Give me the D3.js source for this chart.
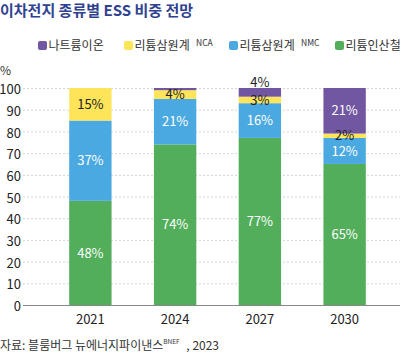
<!DOCTYPE html>
<html><head><meta charset="utf-8">
<script src="https://cdn.jsdelivr.net/npm/d3@7"></script>
<style>
body{margin:0;background:#fff;}
text{font-family:"Noto Sans CJK KR","Noto Sans",sans-serif;}
</style></head>
<body><svg id="c" width="407" height="355"></svg>
<script>
const categories = ["2021","2024","2027","2030"];
const seriesNames = ["리튬인산철","리튬삼원계 NMC","리튬삼원계 NCA","나트륨이온"];
const lfp = [48,74,77,65];
const nmc = [37,21,16,12];
const nca = [15,4,3,2];
const sodium = [0,1,4,21];
const yTicks = [0,10,20,30,40,50,60,70,80,90,100];
const colors = ["#52ae5a","#4ba9e1","#fde459","#7156a1"];
const legendOrder = [3,2,1,0];

const svg = d3.select("#c");
const x = d3.scaleBand().domain(categories).range([48,387]).paddingInner(0.5).paddingOuter(0.25);
const y = d3.scaleLinear().domain([0,100]).range([305,88]);

// title
svg.append("text").attr("x",0).attr("y",16).attr("font-size",15).attr("font-weight","bold")
  .attr("fill","#2f4290").text("이차전지 종류별 ESS 비중 전망");

// legend
const legX = [38,124,229,335];
legendOrder.forEach((si,i)=>{
  const g = svg.append("g").attr("transform",`translate(${legX[i]},0)`);
  g.append("rect").attr("x",0).attr("y",41).attr("width",9).attr("height",9).attr("rx",2).attr("fill",colors[si]);
  const parts = seriesNames[si].split(" ");
  g.append("text").attr("x",10.5).attr("y",50).attr("font-size",12).attr("fill","#333").text(parts[0]);
  if(parts[1]){
    g.append("text").attr("x",72).attr("y",46).attr("font-size",8.5).attr("fill","#333").text(parts[1]);
  }
});

// % unit
svg.append("text").attr("x",0).attr("y",75).attr("font-size",12).attr("fill","#333").text("%");

// gridlines
svg.append("g").selectAll("line").data(yTicks.filter(d=>d>0)).join("line")
  .attr("x1",23).attr("x2",400).attr("y1",d=>y(d)+0.5).attr("y2",d=>y(d)+0.5)
  .attr("stroke","#d4d4d4").attr("stroke-dasharray","2,2");

// y axis labels
const yAxis = d3.axisLeft(y).tickValues(yTicks).tickSize(0).tickPadding(0);
const ya = svg.append("g").attr("transform","translate(21,1.5)").call(yAxis);
ya.select(".domain").remove();
ya.selectAll("text").attr("font-size",13).attr("fill","#222").style("font-family","'Noto Sans CJK KR',sans-serif");

// stack
const rows = categories.map((c,i)=>({cat:c, s0:lfp[i], s1:nmc[i], s2:nca[i], s3:sodium[i]}));
const stack = d3.stack().keys(["s0","s1","s2","s3"])(rows);
const bars = svg.append("g");
stack.forEach((layer,li)=>{
  bars.selectAll(null).data(layer).join("rect")
    .attr("x",d=>x(d.data.cat)).attr("width",x.bandwidth())
    .attr("y",d=>y(d[1])).attr("height",d=>Math.max(0,y(d[0])-y(d[1])))
    .attr("fill",colors[li]);
});
// labels
stack.forEach((layer,li)=>{
  layer.forEach(d=>{
    const v = d[1]-d[0];
    if(v<2) return;
    const cx = x(d.data.cat)+x.bandwidth()/2;
    let cy = (y(d[0])+y(d[1]))/2, fill = (li===2)?"#222":"#fff";
    if(li===3 && v<5){ cy = y(d[1])-6; fill="#222"; }
    svg.append("text").attr("x",cx).attr("y",cy).attr("dy","0.36em").attr("text-anchor","middle")
      .attr("font-size",13).attr("fill",fill).text(v+"%");
  });
});

// x axis
svg.append("line").attr("x1",23).attr("x2",400).attr("y1",305.5).attr("y2",305.5).attr("stroke","#888");
const xAxis = d3.axisBottom(x).tickSize(0).tickPadding(0);
const xa = svg.append("g").attr("transform","translate(0,315)").call(xAxis);
xa.select(".domain").remove();
xa.selectAll("text").attr("font-size",13).attr("fill","#222").attr("dy","0.71em").style("font-family","'Noto Sans CJK KR',sans-serif");

// source
const src = svg.append("text").attr("x",0).attr("y",350).attr("font-size",12).attr("fill","#333");
src.append("tspan").text("자료: 블룸버그 뉴에너지파이낸스");
src.append("tspan").attr("font-size",6.5).attr("dy",-6).text("BNEF");
src.append("tspan").attr("dy",6).attr("dx",4).text(" , 2023");
</script></body></html>
